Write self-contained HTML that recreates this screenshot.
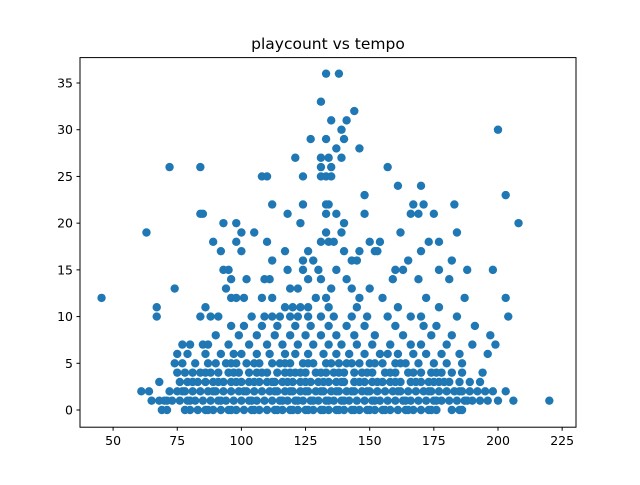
<!DOCTYPE html>
<html><head><meta charset="utf-8"><style>
html,body{margin:0;padding:0;background:#fff;}
svg text{font-family:"DejaVu Sans","Liberation Sans",sans-serif;fill:#000;}
</style></head><body>
<svg id="chart" width="640" height="480" xmlns="http://www.w3.org/2000/svg">
<rect width="640" height="480" fill="#fff"/>
<text x="328" y="49" text-anchor="middle" font-size="15.5">playcount vs tempo</text>
<g id="points"></g>
<rect x="80" y="57.6" width="496" height="369.6" fill="none" stroke="#000" stroke-width="1"/>
<g id="xaxis"></g>
<g id="yaxis"></g>
</svg>
<script>
const xTicks=[50,75,100,125,150,175,200,225];
const yTicks=[0,5,10,15,20,25,30,35];
const upperTempo=[133,138,131,144,141,135,139,200,133,140,127,146,137,134,139,121,131,157,72,84,131,135,124,108,110,131,133,135,170,161,148,203,124,112,133,134,167,171,183,85,84,118,133,137,148,166,169,175,98,93,123,140,208,100,63,105,139,162,184,133,89,98,110,131,134,136,150,154,173,177,92,100,117,126,140,146,152,153,170,182,112,124,128,143,145,165,93,95,118,130,137,160,163,177,188,198,124,96,102,109,111,126,131,141,159,169,181,94,119,122,135,143,150,74,101,108,112,129,133,146,155,172,187,203,45.5,96,98,67,117,120,123,126,134,145,161,177,86];
const upperCount=[36,36,33,32,31,31,30,30,29,29,29,28,28,27,27,27,27,26,26,26,26,26,25,25,25,25,25,25,24,24,23,23,22,22,22,22,22,22,22,21,21,21,21,21,21,21,21,21,20,20,20,20,20,19,19,19,19,19,19,19,18,18,18,18,18,18,18,18,18,18,17,17,17,17,17,17,17,17,17,16,16,16,16,16,16,16,15,15,15,15,15,15,15,15,15,15,15,14,14,14,14,14,14,14,14,14,14,13,13,13,13,13,13,13,12,12,12,12,12,12,12,12,12,12,12,12,12,11,11,11,11,11,11,11,11,11,11];
const rowLevels=[10,9,8,7,6,5,4,3,2,1,0];
const rowTempos=[
[67,84,88,91,104,109,112,115,119,122,126,131,136,143,149,157,166,170,184,204],
[96,101,108,114,121,127,134,141,148,160,171,176,191],
[90,99,106,113,119,125,131,137,144,152,163,174,182,197],
[77,80,85,87,95,103,110,116,122,128,134,139,145,151,158,166,170,180,190,199],
[75,79,86,92,97,100,106,111,117,121,126,132,137,142,148,154,157,161,167,172,178,185,196],
[74,77,82,87,90,94,98,102,107,112,115,119,124,128,133,138,141,146,150,155,160,164,169,175,180,186],
[75,78,81,84,88,91,95,99,103,106,110,114,117,121,125,129,133,136,140,144,147,151,156,160,165,170,174,178,182,186,194],
[68,76,79,83,86,89,93,96,100,103,107,110,113,116,120,123,127,130,134,137,140,144,148,151,155,158,162,166,170,173,177,181,185,189,193],
[61,64,72,75,78,81,84,87,90,93,96,99,102,105,108,111,114,117,120,123,126,129,132,135,138,141,144,147,150,153,156,159,162,165,168,171,174,177,180,183,186,189,192,195,198,203],
[65,68,70,73,76,79,82,85,88,91,94,97,100,103,106,109,112,115,118,121,124,127,130,133,136,139,142,145,148,151,154,157,160,163,166,169,172,175,178,181,184,187,190,193,196,200,206,220],
[69,71,80,83,86,89,92,95,98,101,104,107,110,113,116,119,122,125,128,131,134,137,140,143,146,149,152,155,158,161,164,167,170,173,176,185,186]
];
const extraLevels=[5,4,3,2,1,0];
const extraTempos=[
[96,105,117,126,135,143,152,162],
[86,97,108,119,123,131,138,149,158,167,176],
[81,91,98,105,112,118,125,132,139,146,153,160,168,175,179],
[77,89,101,113,119,125,131,137,143,149,161,173,185],
[71,80,92,104,116,122,128,134,140,152,164,176,188],
[78,87,96,105,114,120,126,132,138,144,150,156,165,174,182]
];
const NS="http://www.w3.org/2000/svg";
const X0=80,X1=576,Y0=427.2,Y1=57.6;
const xMin=37.1,xMax=230.4,yMin=-1.84,yMax=37.72;
function sx(v){return X0+(v-xMin)/(xMax-xMin)*(X1-X0);}
function sy(v){return Y0-(v-yMin)/(yMax-yMin)*(Y0-Y1);}
const pg=document.getElementById('points');
function dot(t,c){
  const e=document.createElementNS(NS,'circle');
  e.setAttribute('cx',sx(t));e.setAttribute('cy',sy(c));e.setAttribute('r',4.2);
  e.setAttribute('fill','#1f77b4');
  
  
  pg.appendChild(e);
}
for(let i=0;i<upperTempo.length;i++)dot(upperTempo[i],upperCount[i]);
for(let r=0;r<rowLevels.length;r++)for(const t of rowTempos[r])dot(t,rowLevels[r]);
for(let r=0;r<extraLevels.length;r++)for(const t of extraTempos[r])dot(t,extraLevels[r]);
const xa=document.getElementById('xaxis');
for(const t of xTicks){
  const l=document.createElementNS(NS,'line');
  l.setAttribute('x1',sx(t));l.setAttribute('x2',sx(t));l.setAttribute('y1',Y0);l.setAttribute('y2',Y0+3.5);l.setAttribute('stroke','#000');
  
  
  xa.appendChild(l);
  const tx=document.createElementNS(NS,'text');
  tx.setAttribute('x',sx(t));tx.setAttribute('y',Y0+18);tx.setAttribute('text-anchor','middle');tx.setAttribute('font-size','12.5');
  tx.textContent=t;
  
  
  xa.appendChild(tx);
}
const ya=document.getElementById('yaxis');
for(const t of yTicks){
  const l=document.createElementNS(NS,'line');
  l.setAttribute('x1',X0-3.5);l.setAttribute('x2',X0);l.setAttribute('y1',sy(t));l.setAttribute('y2',sy(t));l.setAttribute('stroke','#000');
  
  
  ya.appendChild(l);
  const tx=document.createElementNS(NS,'text');
  tx.setAttribute('x',X0-7);tx.setAttribute('y',sy(t)+4.5);tx.setAttribute('text-anchor','end');tx.setAttribute('font-size','12.5');
  tx.textContent=t;
  
  
  ya.appendChild(tx);
}
</script>
</body></html>
